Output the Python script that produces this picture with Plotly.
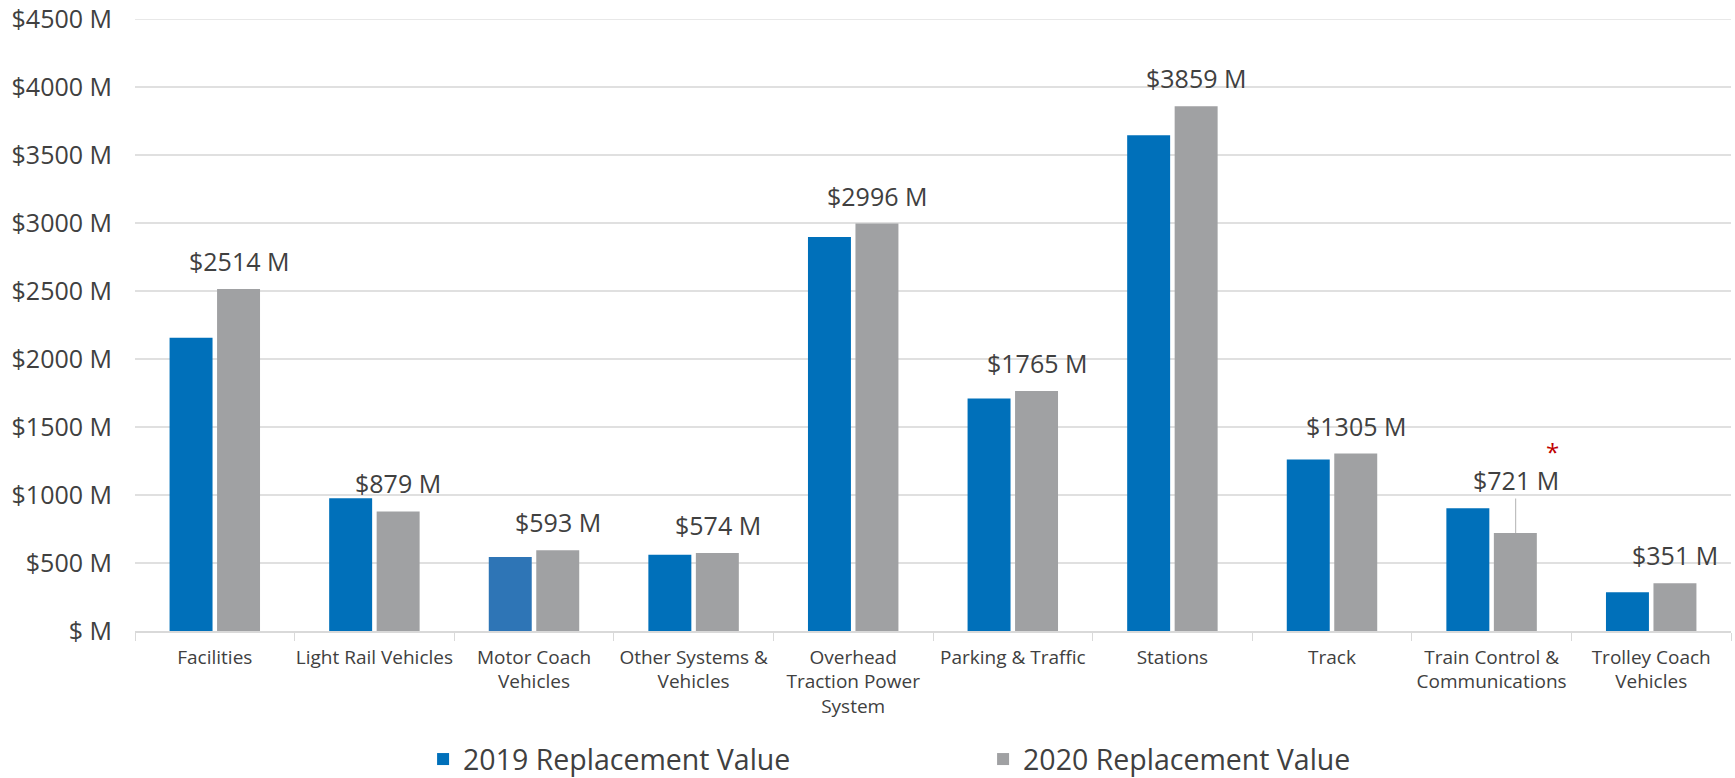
import plotly.graph_objects as go

categories = ["Facilities", "Light Rail Vehicles", "Motor Coach<br>Vehicles",
              "Other Systems &<br>Vehicles", "Overhead<br>Traction Power<br>System",
              "Parking & Traffic", "Stations", "Track",
              "Train Control &<br>Communications", "Trolley Coach<br>Vehicles"]
values_2019 = [2156, 976, 545, 561, 2897, 1709, 3646, 1261, 903, 285]
values_2020 = [2514, 879, 593, 574, 2996, 1765, 3859, 1305, 721, 351]
labels_2020 = ["$2514 M", "$879 M", "$593 M", "$574 M", "$2996 M",
               "$1765 M", "$3859 M", "$1305 M", "$721 M", "$351 M"]
ytick_vals = [0, 500, 1000, 1500, 2000, 2500, 3000, 3500, 4000, 4500]
ytick_text = ["$ M", "$500 M", "$1000 M", "$1500 M", "$2000 M", "$2500 M",
              "$3000 M", "$3500 M", "$4000 M", "$4500 M"]
series_names = ["2019 Replacement Value", "2020 Replacement Value"]

FONT = "Open Sans"
TXT = "#404040"
BLUE = "#0070BA"
BLUE_ALT = "#2E75B6"
GRAY = "#A0A1A3"
GRID = "#E0E0E0"

blue_colors = [BLUE] * len(categories)
blue_colors[2] = BLUE_ALT

fig = go.Figure()
fig.add_trace(go.Bar(x=categories, y=values_2019, name=series_names[0],
                     marker=dict(color=blue_colors, line=dict(width=0))))
fig.add_trace(go.Bar(x=categories, y=values_2020, name=series_names[1],
                     marker=dict(color=GRAY, line=dict(width=0))))

annotations = []
for i, (c, v, t) in enumerate(zip(categories, values_2020, labels_2020)):
    if c.startswith("Train Control"):
        annotations.append(dict(x=c, y=v, text=t, xref="x", yref="y",
                                showarrow=True, arrowhead=0, arrowwidth=1.2,
                                arrowcolor="#BFBFBF", ax=0, ay=-53, xshift=24,
                                standoff=0, font=dict(family=FONT, size=25, color=TXT)))
        annotations.append(dict(x=c, y=v, text="*", xref="x", yref="y",
                                showarrow=False, xshift=61, yshift=81,
                                font=dict(family=FONT, size=24, color="#C00000")))
    else:
        annotations.append(dict(x=c, y=v, text=t, xref="x", yref="y",
                                showarrow=False, xshift=24, yshift=28, yanchor="middle",
                                font=dict(family=FONT, size=25, color=TXT)))

fig.update_layout(
    width=1735, height=778,
    margin=dict(l=135, r=4, t=19, b=147, autoexpand=False),
    paper_bgcolor="white", plot_bgcolor="white",
    barmode="group", bargap=0.405, bargroupgap=0.095,
    font=dict(family=FONT, color=TXT),
    showlegend=True,
    legend=dict(orientation="h", x=0.1805, xanchor="left", y=-0.21, yanchor="middle",
                font=dict(family=FONT, size=28.5, color=TXT),
                entrywidth=515, entrywidthmode="pixels",
                bgcolor="rgba(0,0,0,0)"),
    annotations=annotations,
)
# top gridline (plotly drops gridlines that sit exactly on the plot edge)
fig.add_hline(y=ytick_vals[-1], line=dict(color=GRID, width=1.5), layer="below")

fig.update_xaxes(
    type="category", tickson="boundaries", ticks="outside", ticklen=8,
    tickcolor="#D9D9D9", showline=True, linecolor="#D9D9D9", linewidth=1.5,
    showgrid=False, tickangle=0, automargin=False, ticklabelstandoff=8,
    tickfont=dict(family=FONT, size=19, color=TXT),
)
fig.update_yaxes(
    range=[0, 4500], tickvals=ytick_vals, ticktext=ytick_text,
    showgrid=True, gridcolor=GRID, gridwidth=1.5, zeroline=False,
    showline=False, ticks="", ticklabelstandoff=22, automargin=False,
    ticklabeloverflow="allow",
    tickfont=dict(family=FONT, size=25, color=TXT),
)

# remove the default 8px page margin so the figure fills the window exactly
fig.write_html("out.html", config={"displayModeBar": False},
               post_script="document.body.style.margin='0';")
